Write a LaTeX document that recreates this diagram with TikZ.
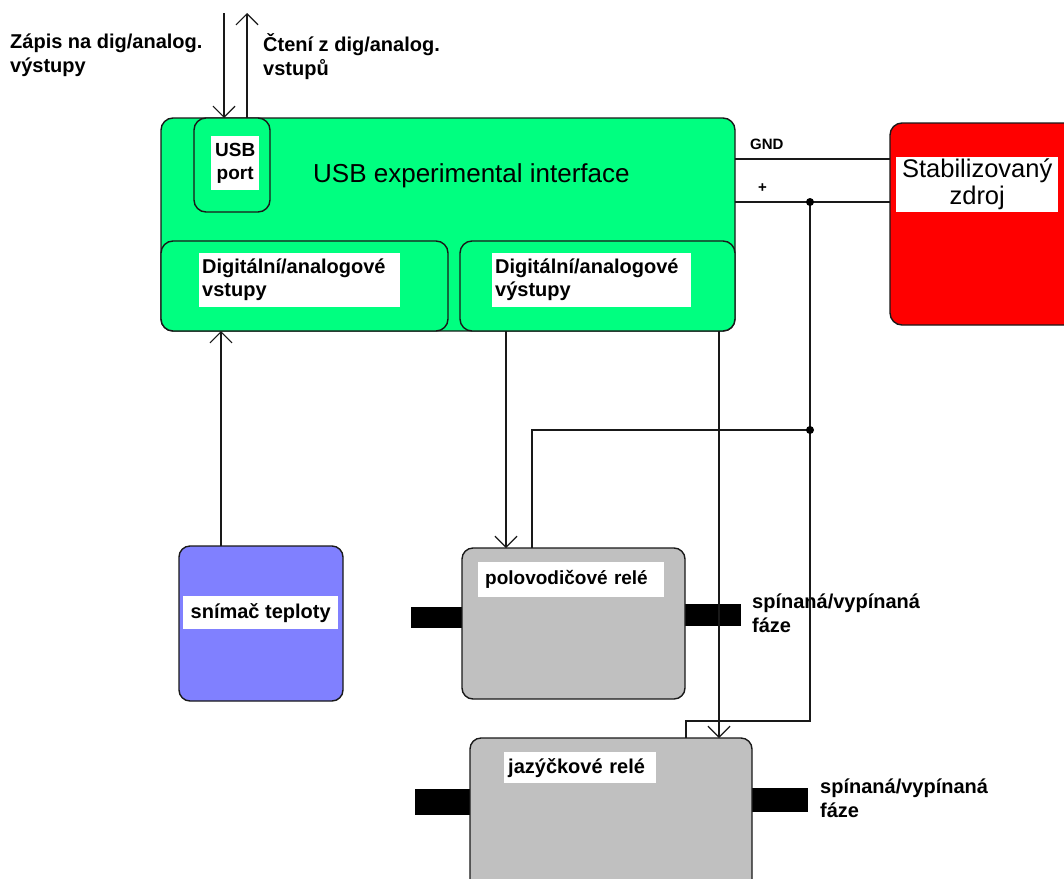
\documentclass[tikz,border=0pt]{standalone}
\usepackage{fontspec}
\setmainfont{Liberation Sans}
\usetikzlibrary{arrows.meta}
\definecolor{ifgreen}{RGB}{0,255,128}
\definecolor{psured}{RGB}{255,0,0}
\definecolor{sensblue}{RGB}{128,128,255}
\definecolor{relgray}{RGB}{192,192,192}
\definecolor{edgecol}{RGB}{25,25,25}

\begin{document}
\begin{tikzpicture}[x=1pt,y=-1pt,
  blk/.style={draw=edgecol, line width=1.4pt, rounded corners=12pt,
              inner sep=0pt, outer sep=0pt, anchor=north west},
  lbl/.style={fill=white, inner sep=0pt, anchor=north west,
              font=\fontsize{20}{23}\selectfont\bfseries},
  txt/.style={inner sep=0pt, anchor=base west, align=left,
              font=\fontsize{20}{24}\selectfont\bfseries},
  wire/.style={line width=1.2pt, draw=edgecol},
  arr/.style={wire, -{Straight Barb[length=11pt,width=22pt,line width=1.2pt]}},
  bar/.style={fill=black, draw=none, inner sep=0pt, outer sep=0pt, anchor=north west},
  dot/.style={circle, fill=black, inner sep=0pt, minimum size=8pt}
]
\clip (0,0) rectangle (1064,878);
\fill[white] (0,0) rectangle (1064,878);

% USB interface with its port and I/O sections
\node[blk, fill=ifgreen, minimum width=574pt, minimum height=213pt] (iface) at (161,118) {};
\node[blk, fill=ifgreen, minimum width=287pt, minimum height=90pt] (dinp) at (161,241) {};
\node[blk, fill=ifgreen, minimum width=275pt, minimum height=90pt] (dout) at (460,241) {};
\node[blk, fill=ifgreen, minimum width=76pt, minimum height=94pt] (port) at (194,118) {};
\node[lbl, font=\fontsize{19}{23}\selectfont\bfseries, minimum width=48pt, minimum height=54pt, align=center] (portlbl) at (211,136) {USB\\port};
\node[inner sep=0pt, anchor=base west, font=\fontsize{26}{30}\selectfont] (title) at (313,182) {USB experimental interface};
\node[lbl, minimum width=201pt, minimum height=54pt, text width=195pt, align=left] (dinplbl) at (199,253) {Digitální/analogové\\vstupy};
\node[lbl, minimum width=199pt, minimum height=54pt, text width=193pt, align=left] (doutlbl) at (492,253) {Digitální/analogové\\výstupy};

% power supply
\node[blk, fill=psured, minimum width=200pt, minimum height=202pt] (zdroj) at (890,123) {};
\node[lbl, font=\fontsize{25.5}{27}\selectfont, minimum width=162pt, minimum height=55pt, align=center] (zdrojlbl) at (896,157) {Stabilizovaný\\zdroj};
\node[txt, font=\fontsize{15}{18}\selectfont\bfseries] (gnd) at (750,149) {GND};
\node[txt, font=\fontsize{15}{18}\selectfont\bfseries] (plus) at (758,192) {+};

% temperature sensor
\node[blk, fill=sensblue, rounded corners=11pt, minimum width=164pt, minimum height=155pt] (sensor) at (179,546) {};
\node[lbl, minimum width=155pt, minimum height=33pt, align=center] (senslbl) at (183,596) {snímač teploty};

% solid state relay
\node[bar, minimum width=51pt, minimum height=21pt] (ssrL) at (411,607) {};
\node[bar, minimum width=56pt, minimum height=22pt] (ssrR) at (685,604) {};
\node[blk, fill=relgray, rounded corners=11pt, minimum width=223pt, minimum height=151pt] (ssr) at (462,548) {};
\node[lbl, font=\fontsize{19}{23}\selectfont\bfseries, minimum width=186pt, minimum height=35pt, text width=172pt, align=left] (ssrlbl) at (478,562) {polovodičové relé};

% reed relay
\node[bar, minimum width=55pt, minimum height=26pt] (reedL) at (415,789) {};
\node[bar, minimum width=56pt, minimum height=24pt] (reedR) at (752,788) {};
\node[blk, fill=relgray, rounded corners=11pt, minimum width=282pt, minimum height=160pt] (reed) at (470,738) {};
\node[lbl, minimum width=152pt, minimum height=31pt, text width=144pt, align=left] (reedlbl) at (504,752) {jazýčkové relé};

% switched phase labels (anchored on the baseline of the last line)
\node[txt] (ph1) at (752,632) {spínaná/vypínaná\\fáze};
\node[txt] (ph2) at (820,817) {spínaná/vypínaná\\fáze};

% host side texts
\node[txt] (write) at (10,72) {Zápis na dig/analog.\\výstupy};
\node[txt] (read) at (263,75) {Čtení z dig/analog.\\vstupů};

% wiring
\coordinate (wtop) at (224,13);
\coordinate (rtop) at (247,13);
\coordinate (jp) at (810,202);
\coordinate (jm) at (810,430);
\coordinate (jb) at (810,721);

\draw[arr] (wtop) -- (wtop |- port.north);
\draw[arr] (rtop |- port.north) -- (rtop);
\draw[arr] (221,0 |- sensor.north) -- (221,0 |- dinp.south);
\draw[arr] (506,0 |- dout.south) -- (506,0 |- ssr.north);
\draw[arr] (719,0 |- dout.south) -- (719,0 |- reed.north);

\draw[wire] (iface.east |- 0,159) -- (zdroj.west |- 0,159);
\draw[wire] (iface.east |- 0,202) -- (zdroj.west |- 0,202);
\draw[wire] (jp) -- (jb) -| (686,0 |- reed.north);
\draw[wire] (jm) -| (532,0 |- ssr.north);
\node[dot] at (jp) {};
\node[dot] at (jm) {};
\end{tikzpicture}
\end{document}
